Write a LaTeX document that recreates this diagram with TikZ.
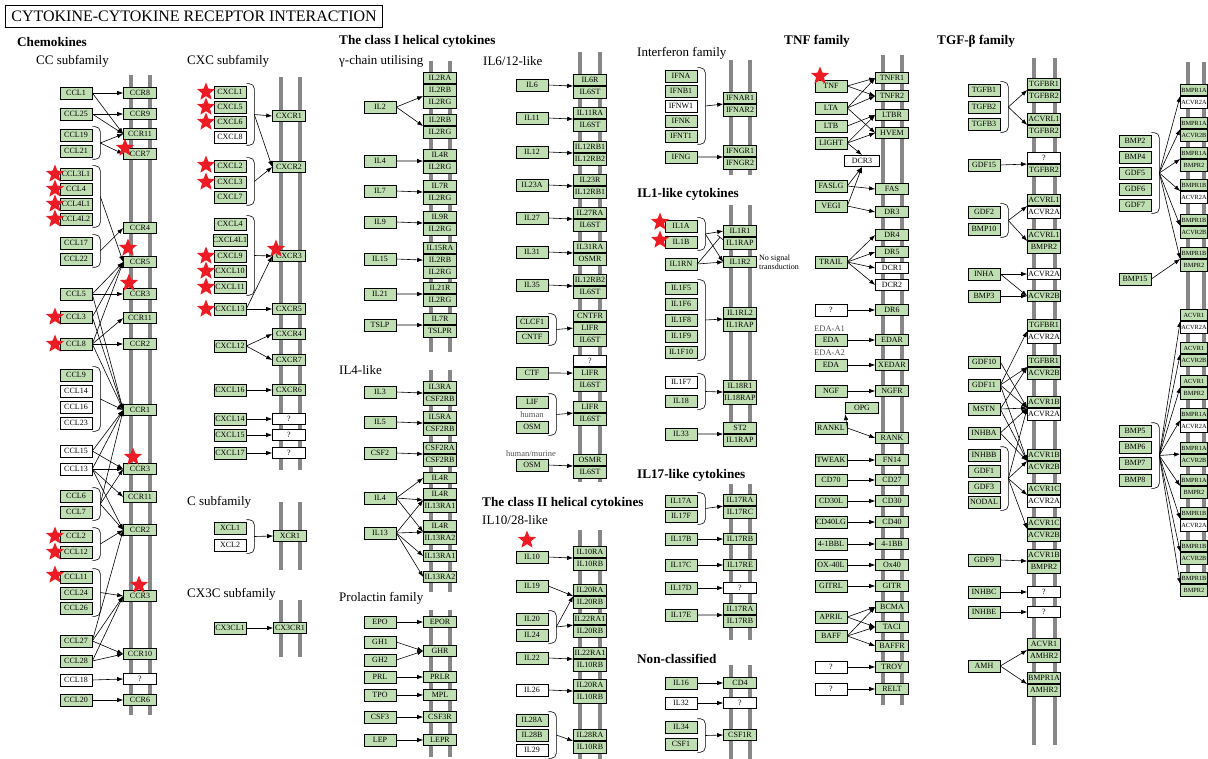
\documentclass[tikz,border=0pt]{standalone}
\usepackage{fontspec}
\setmainfont{Liberation Serif}
\usetikzlibrary{arrows.meta,positioning,shapes.geometric,calc}
\definecolor{kgreen}{RGB}{191,222,178}
\definecolor{memgray}{RGB}{135,135,135}
\definecolor{starred}{RGB}{237,28,36}
\definecolor{notegray}{RGB}{80,80,80}
% bracket round a group of ligands, with a coordinate at its tip
\newcommand{\kbrace}[3]{%
  \draw[brk] ([yshift=2pt]#1.north east) -| ([xshift=8pt,yshift=-2pt]#2.south east) -- ([yshift=-2pt]#2.south east);
  \coordinate (#3) at ($(#1.north east)!0.5!(#2.south east)+(8,0)$);}

\begin{document}
\begin{tikzpicture}[x=1pt, y=-1pt,
    lig/.style = {draw, line width=0.6pt, fill=kgreen, minimum width=32pt, minimum height=12pt, inner sep=0pt, font=\fontsize{8}{8}\selectfont},
    ligw/.style = {lig, fill=white},
    rec/.style = {lig, minimum width=33pt, minimum height=11.5pt},
    recw/.style = {rec, fill=white},
    bmp/.style = {rec, minimum width=27pt, font=\fontsize{6.3}{7}\selectfont},
    bmpw/.style = {bmp, fill=white},
    mem/.style = {draw=memgray, line width=3.2pt},
    arr/.style = {-{Latex[length=6pt,width=4.4pt]}, line width=0.6pt},
    inh/.style = {-{Bar[width=7pt]}, line width=0.6pt},
    brk/.style = {draw, line width=0.6pt, rounded corners=5pt},
    kstar/.style = {star, star points=5, star point ratio=2.3, fill=starred, inner sep=0pt, minimum size=19pt},
    head/.style = {anchor=west, inner sep=0pt, font=\bfseries\fontsize{13.2}{15}\selectfont},
    sub/.style = {anchor=west, inner sep=0pt, font=\fontsize{13}{15}\selectfont},
    note/.style = {inner sep=0pt, text=notegray, font=\fontsize{8.5}{9}\selectfont}]
\useasboundingbox (0,0) rectangle (1208,759);

% membranes
\foreach \xa/\xb/\ya/\yb in {131/150/75/715, 281/300/77/470, 281/300/502/570, 281/300/600/657,
    431/450/61/352, 431/450/370/592, 431/450/610/757, 580/600/52/482, 580/600/530/759,
    731/750/60/175, 731/750/205/445, 731/750/484/640, 731/750/665/759,
    883/902/55/705, 1034/1055/58/745, 1188/1204/62/597}
  {\draw[mem] (\xa,\ya) -- (\xa,\yb); \draw[mem] (\xb,\ya) -- (\xb,\yb);}

% title and headings
\node[draw, line width=0.8pt, anchor=west, inner xsep=6pt, minimum height=22pt, font=\fontsize{16}{18}\selectfont] (title) at (5,16) {CYTOKINE-CYTOKINE RECEPTOR INTERACTION};
\node[head] (hChemo) at (17,42) {Chemokines};
\node[sub] (hCC) at (36,61) {CC subfamily};
\node[sub] (hCXC) at (187,61) {CXC subfamily};
\node[sub] (hC) at (187,502) {C subfamily};
\node[sub] (hCX3C) at (187,594) {CX3C subfamily};
\node[head] (hClassI) at (339,41) {The class I helical cytokines};
\node[sub] (hGamma) at (339,61) {γ-chain utilising};
\node[sub] (hIL4) at (339,370) {IL4-like};
\node[sub] (hPRL) at (339,598) {Prolactin family};
\node[sub] (hIL6) at (483,61) {IL6/12-like};
\node[head] (hClassII) at (482,503) {The class II helical cytokines};
\node[sub] (hIL10) at (482,520) {IL10/28-like};
\node[sub] (hIFN) at (637,53) {Interferon family};
\node[head] (hIL1) at (637,194) {IL1-like cytokines};
\node[head] (hIL17) at (637,475) {IL17-like cytokines};
\node[head] (hNC) at (637,659) {Non-classified};
\node[head] (hTNF) at (784,41) {TNF family};
\node[head] (hTGF) at (937,41) {TGF-β family};

% CC subfamily
\node[lig] (CCL1) at (76,93) {CCL1};
\node[lig] (CCL25) at (76,114) {CCL25};
\node[lig] (CCL19) at (76,135) {CCL19};
\node[lig] (CCL21) at (76,151) {CCL21};
\node[lig] (CCL3L1) at (76,174) {CCL3L1};
\node[lig] (CCL4) at (76,189) {CCL4};
\node[lig] (CCL4L1) at (76,204) {CCL4L1};
\node[lig] (CCL4L2) at (76,219) {CCL4L2};
\node[lig] (CCL17) at (76,243) {CCL17};
\node[lig] (CCL22) at (76,259) {CCL22};
\node[lig] (CCL5) at (76,294) {CCL5};
\node[lig] (CCL3) at (76,317) {CCL3};
\node[lig] (CCL8) at (76,344) {CCL8};
\node[lig] (CCL9) at (76,375) {CCL9};
\node[ligw] (CCL14) at (76,391) {CCL14};
\node[ligw] (CCL16) at (76,407) {CCL16};
\node[ligw] (CCL23) at (76,423) {CCL23};
\node[ligw] (CCL15) at (76,451) {CCL15};
\node[ligw] (CCL13) at (76,469) {CCL13};
\node[lig] (CCL6) at (76,496) {CCL6};
\node[lig] (CCL7) at (76,512) {CCL7};
\node[lig] (CCL2) at (76,536) {CCL2};
\node[lig] (CCL12) at (76,552) {CCL12};
\node[lig] (CCL11) at (76,577) {CCL11};
\node[lig] (CCL24) at (76,593) {CCL24};
\node[lig] (CCL26) at (76,608) {CCL26};
\node[lig] (CCL27) at (76,641) {CCL27};
\node[lig] (CCL28) at (76,661) {CCL28};
\node[ligw] (CCL18) at (76,680) {CCL18};
\node[lig] (CCL20) at (76,700) {CCL20};
\node[rec] (CCR8) at (140,93) {CCR8};
\node[rec] (CCR9) at (140,114) {CCR9};
\node[rec] (CCR11a) at (140,134) {CCR11};
\node[rec] (CCR7) at (140,154) {CCR7};
\node[rec] (CCR4) at (140,228) {CCR4};
\node[rec] (CCR5) at (140,262) {CCR5};
\node[rec] (CCR3a) at (140,294) {CCR3};
\node[rec] (CCR11b) at (140,318) {CCR11};
\node[rec] (CCR2a) at (140,344) {CCR2};
\node[rec] (CCR1) at (140,410) {CCR1};
\node[rec] (CCR3b) at (140,469) {CCR3};
\node[rec] (CCR11c) at (140,497) {CCR11};
\node[rec] (CCR2b) at (140,530) {CCR2};
\node[rec] (CCR3c) at (140,596) {CCR3};
\node[rec] (CCR10) at (140,654) {CCR10};
\node[recw] (CCRq) at (140,679) {?};
\node[rec] (CCR6) at (140,700) {CCR6};
\kbrace{CCL19}{CCL21}{bCC1}
\kbrace{CCL3L1}{CCL4L2}{bCC2}
\kbrace{CCL17}{CCL22}{bCC3}
\kbrace{CCL9}{CCL23}{bCC4}
\kbrace{CCL6}{CCL7}{bCC5}
\kbrace{CCL2}{CCL12}{bCC6}
\kbrace{CCL11}{CCL26}{bCC7}
\path[arr] (CCL1.east) edge (CCR8.west) edge (CCR11a.west);
\path[arr] (CCL25.east) edge (CCR9.west) edge (CCR11a.west);
\path[arr] (bCC1) edge (CCR11a.west) edge (CCR7.west);
\path[arr] (bCC2) edge (CCR5.west);
\path[arr] (bCC3) edge (CCR4.west);
\path[arr] (CCL5.east) edge (CCR5.west) edge (CCR3a.west) edge (CCR1.west);
\path[arr] (CCL3.east) edge (CCR5.west) edge (CCR1.west);
\path[arr] (CCL8.east) edge (CCR5.west) edge (CCR11b.west) edge (CCR2a.west) edge (CCR1.west);
\path[arr] (bCC4) edge (CCR1.west);
\path[arr] (CCL15.east) edge (CCR1.west) edge (CCR3b.west);
\path[arr] (CCL13.east) edge (CCR1.west) edge (CCR3b.west) edge (CCR11c.west) edge (CCR2b.west);
\path[arr] (bCC5) edge (CCR1.west) edge (CCR3b.west) edge (CCR2b.west);
\path[arr] (bCC6) edge (CCR2b.west);
\path[arr] (bCC7) edge (CCR3c.west);
\path[arr] (CCL27.east) edge (CCR2b.west) edge (CCR3c.west) edge (CCR10.west);
\path[arr] (CCL28.east) edge (CCR3c.west) edge (CCR10.west);
\path[arr] (CCL18.east) edge (CCRq.west);
\path[arr] (CCL20.east) edge (CCR6.west);

% CXC, C and CX3C subfamilies
\node[lig] (CXCL1) at (230,92) {CXCL1};
\node[lig] (CXCL5) at (230,107) {CXCL5};
\node[lig] (CXCL6) at (230,122) {CXCL6};
\node[ligw] (CXCL8) at (230,137) {CXCL8};
\node[lig] (CXCL2) at (230,166) {CXCL2};
\node[lig] (CXCL3) at (230,182) {CXCL3};
\node[lig] (CXCL7) at (230,197) {CXCL7};
\node[lig] (CXCL4) at (230,224) {CXCL4};
\node[lig] (CXCL4L1) at (230,240) {CXCL4L1};
\node[lig] (CXCL9) at (230,256) {CXCL9};
\node[lig] (CXCL10) at (230,271) {CXCL10};
\node[lig] (CXCL11) at (230,287) {CXCL11};
\node[lig] (CXCL13) at (230,309) {CXCL13};
\node[lig] (CXCL12) at (230,346) {CXCL12};
\node[lig] (CXCL16) at (230,390) {CXCL16};
\node[lig] (CXCL14) at (230,419) {CXCL14};
\node[lig] (CXCL15) at (230,435) {CXCL15};
\node[lig] (CXCL17) at (230,453) {CXCL17};
\node[rec] (CXCR1) at (289,116) {CXCR1};
\node[rec] (CXCR2) at (289,167) {CXCR2};
\node[rec] (CXCR3) at (289,256) {CXCR3};
\node[rec] (CXCR5) at (289,309) {CXCR5};
\node[rec] (CXCR4) at (289,334) {CXCR4};
\node[rec] (CXCR7) at (289,360) {CXCR7};
\node[rec] (CXCR6) at (289,390) {CXCR6};
\node[recw] (CXCq1) at (289,419) {?};
\node[recw] (CXCq2) at (289,435) {?};
\node[recw] (CXCq3) at (289,453) {?};
\node[lig] (XCL1) at (230,528) {XCL1};
\node[ligw] (XCL2) at (230,545) {XCL2};
\node[rec] (XCR1) at (290,536) {XCR1};
\node[lig] (CX3CL1) at (230,628) {CX3CL1};
\node[rec] (CX3CR1) at (290,628) {CX3CR1};
\kbrace{CXCL1}{CXCL8}{bCXC1}
\kbrace{CXCL2}{CXCL7}{bCXC2}
\kbrace{CXCL4}{CXCL11}{bCXC3}
\kbrace{XCL1}{XCL2}{bXC}
\path[arr] (bCXC1) edge (CXCR1.west) edge (CXCR2.west);
\path[arr] (bCXC2) edge (CXCR2.west);
\path[arr] (bCXC3) edge (CXCR3.west);
\path[arr] (CXCL13.east) edge (CXCR3.west) edge (CXCR5.west);
\path[arr] (CXCL12.east) edge (CXCR4.west) edge (CXCR7.west);
\path[arr] (CXCL16.east) edge (CXCR6.west);
\path[arr] (CXCL14.east) edge (CXCq1.west);
\path[arr] (CXCL15.east) edge (CXCq2.west);
\path[arr] (CXCL17.east) edge (CXCq3.west);
\path[arr] (bXC) edge (XCR1.west);
\path[arr] (CX3CL1.east) edge (CX3CR1.west);

% class I helical cytokines: gamma-chain utilising
\node[lig] (IL2) at (380,107) {IL2};
\node[rec] (IL2RA) at (440,78) {IL2RA};
\node[rec, below=0pt of IL2RA] (IL2RBa) {IL2RB};
\node[rec, below=0pt of IL2RBa] (IL2RGa) {IL2RG};
\node[rec] (IL2RBb) at (440,120) {IL2RB};
\node[rec, below=0pt of IL2RBb] (IL2RGb) {IL2RG};
\node[lig] (IL4a) at (380,161) {IL4};
\node[rec] (IL4Ra) at (440,155) {IL4R};
\node[rec, below=0pt of IL4Ra] (IL2RGc) {IL2RG};
\node[lig] (IL7) at (380,191) {IL7};
\node[rec] (IL7Ra) at (440,186) {IL7R};
\node[rec, below=0pt of IL7Ra] (IL2RGd) {IL2RG};
\node[lig] (IL9) at (380,222) {IL9};
\node[rec] (IL9R) at (440,217) {IL9R};
\node[rec, below=0pt of IL9R] (IL2RGe) {IL2RG};
\node[lig] (IL15) at (380,259) {IL15};
\node[rec] (IL15RA) at (440,248) {IL15RA};
\node[rec, below=0pt of IL15RA] (IL2RBc) {IL2RB};
\node[rec, below=0pt of IL2RBc] (IL2RGf) {IL2RG};
\node[lig] (IL21) at (380,294) {IL21};
\node[rec] (IL21R) at (440,288) {IL21R};
\node[rec, below=0pt of IL21R] (IL2RGg) {IL2RG};
\node[lig] (TSLP) at (380,325) {TSLP};
\node[rec] (IL7Rb) at (440,319) {IL7R};
\node[rec, below=0pt of IL7Rb] (TSLPR) {TSLPR};
\path[arr] (IL2.east) edge (IL2RBa.south west) edge (IL2RBb.south west);
\path[arr] (IL4a.east) edge (IL4Ra.south west);
\path[arr] (IL7.east) edge (IL7Ra.south west);
\path[arr] (IL9.east) edge (IL9R.south west);
\path[arr] (IL15.east) edge (IL2RBc.west);
\path[arr] (IL21.east) edge (IL21R.south west);
\path[arr] (TSLP.east) edge (IL7Rb.south west);

% IL4-like
\node[lig] (IL3) at (380,392) {IL3};
\node[rec] (IL3RA) at (440,387) {IL3RA};
\node[rec, below=0pt of IL3RA] (CSF2RBa) {CSF2RB};
\node[lig] (IL5) at (380,422) {IL5};
\node[rec] (IL5RA) at (440,417) {IL5RA};
\node[rec, below=0pt of IL5RA] (CSF2RBb) {CSF2RB};
\node[lig] (CSF2) at (380,453) {CSF2};
\node[rec] (CSF2RA) at (440,448) {CSF2RA};
\node[rec, below=0pt of CSF2RA] (CSF2RBc) {CSF2RB};
\node[rec] (IL4Rb) at (440,478) {IL4R};
\node[lig] (IL4b) at (380,498) {IL4};
\node[rec] (IL4Rc) at (440,494) {IL4R};
\node[rec, below=0pt of IL4Rc] (IL13RA1a) {IL13RA1};
\node[lig] (IL13) at (380,533) {IL13};
\node[rec] (IL4Rd) at (440,526) {IL4R};
\node[rec, below=0pt of IL4Rd] (IL13RA2a) {IL13RA2};
\node[rec] (IL13RA1b) at (440,556) {IL13RA1};
\node[rec] (IL13RA2b) at (440,577) {IL13RA2};
\path[arr] (IL3.east) edge (IL3RA.south west);
\path[arr] (IL5.east) edge (IL5RA.south west);
\path[arr] (CSF2.east) edge (CSF2RA.south west);
\path[arr] (IL4b.east) edge (IL4Rb.west) edge (IL4Rc.south west) edge (IL4Rd.south west);
\path[arr] (IL13.east) edge (IL4Rc.south west) edge (IL4Rd.south west) edge (IL13RA1b.west) edge (IL13RA2b.west);

% prolactin family
\node[lig] (EPO) at (380,622) {EPO};
\node[rec] (EPOR) at (440,622) {EPOR};
\node[lig] (GH1) at (380,642) {GH1};
\node[lig] (GH2) at (380,660) {GH2};
\node[rec] (GHR) at (440,651) {GHR};
\node[lig] (PRL) at (380,677) {PRL};
\node[rec] (PRLR) at (440,677) {PRLR};
\node[lig] (TPO) at (380,695) {TPO};
\node[rec] (MPL) at (440,695) {MPL};
\node[lig] (CSF3) at (380,717) {CSF3};
\node[rec] (CSF3R) at (440,717) {CSF3R};
\node[lig] (LEP) at (380,740) {LEP};
\node[rec] (LEPR) at (440,740) {LEPR};
\path[arr] (EPO.east) edge (EPOR.west);
\path[arr] (GH1.east) edge (GHR.west);
\path[arr] (GH2.east) edge (GHR.west);
\path[arr] (PRL.east) edge (PRLR.west);
\path[arr] (TPO.east) edge (MPL.west);
\path[arr] (CSF3.east) edge (CSF3R.west);
\path[arr] (LEP.east) edge (LEPR.west);

% IL6/12-like
\node[lig] (IL6) at (532,85) {IL6};
\node[rec] (IL6R) at (590,80) {IL6R};
\node[rec, below=0pt of IL6R] (IL6STa) {IL6ST};
\node[lig] (IL11) at (532,118) {IL11};
\node[rec] (IL11RA) at (590,113) {IL11RA};
\node[rec, below=0pt of IL11RA] (IL6STb) {IL6ST};
\node[lig] (IL12) at (532,152) {IL12};
\node[rec] (IL12RB1a) at (590,147) {IL12RB1};
\node[rec, below=0pt of IL12RB1a] (IL12RB2a) {IL12RB2};
\node[lig] (IL23A) at (532,185) {IL23A};
\node[rec] (IL23R) at (590,180) {IL23R};
\node[rec, below=0pt of IL23R] (IL12RB1b) {IL12RB1};
\node[lig] (IL27) at (532,218) {IL27};
\node[rec] (IL27RA) at (590,213) {IL27RA};
\node[rec, below=0pt of IL27RA] (IL6STc) {IL6ST};
\node[lig] (IL31) at (532,252) {IL31};
\node[rec] (IL31RA) at (590,247) {IL31RA};
\node[rec, below=0pt of IL31RA] (OSMRa) {OSMR};
\node[lig] (IL35) at (532,285) {IL35};
\node[rec] (IL12RB2b) at (590,280) {IL12RB2};
\node[rec, below=0pt of IL12RB2b] (IL6STd) {IL6ST};
\node[lig] (CLCF1) at (532,322) {CLCF1};
\node[lig] (CNTF) at (532,337) {CNTF};
\node[rec] (CNTFR) at (590,316) {CNTFR};
\node[rec, below=0pt of CNTFR] (LIFRa) {LIFR};
\node[rec, below=0pt of LIFRa] (IL6STe) {IL6ST};
\node[lig] (CTF) at (532,373) {CTF};
\node[recw] (IL6q) at (590,361) {?};
\node[rec, below=0pt of IL6q] (LIFRb) {LIFR};
\node[rec, below=0pt of LIFRb] (IL6STf) {IL6ST};
\node[lig] (LIF) at (532,402) {LIF};
\node[note] (nHuman) at (532,415) {human};
\node[lig] (OSMa) at (532,427) {OSM};
\node[rec] (LIFRc) at (590,407) {LIFR};
\node[rec, below=0pt of LIFRc] (IL6STg) {IL6ST};
\node[note] (nMurine) at (531,454) {human/murine};
\node[lig] (OSMb) at (532,465) {OSM};
\node[rec] (OSMRb) at (590,460) {OSMR};
\node[rec, below=0pt of OSMRb] (IL6STh) {IL6ST};
\kbrace{CLCF1}{CNTF}{bIL6a}
\kbrace{LIF}{OSMa}{bIL6b}
\path[arr] (IL6.east) edge (IL6R.south west);
\path[arr] (IL11.east) edge (IL11RA.south west);
\path[arr] (IL12.east) edge (IL12RB1a.south west);
\path[arr] (IL23A.east) edge (IL23R.south west);
\path[arr] (IL27.east) edge (IL27RA.south west);
\path[arr] (IL31.east) edge (IL31RA.south west);
\path[arr] (IL35.east) edge (IL12RB2b.south west);
\path[arr] (bIL6a) edge (LIFRa.west);
\path[arr] (CTF.east) edge (LIFRb.west);
\path[arr] (bIL6b) edge (LIFRc.south west);
\path[arr] (OSMb.east) edge (OSMRb.south west);

% class II helical cytokines
\node[lig] (IL10) at (532,557) {IL10};
\node[rec] (IL10RA) at (590,552) {IL10RA};
\node[rec, below=0pt of IL10RA] (IL10RBa) {IL10RB};
\node[lig] (IL19) at (532,586) {IL19};
\node[rec] (IL20RAa) at (590,590) {IL20RA};
\node[rec, below=0pt of IL20RAa] (IL20RBa) {IL20RB};
\node[lig] (IL20) at (532,619) {IL20};
\node[lig] (IL24) at (532,635) {IL24};
\node[rec] (IL22RA1a) at (590,619) {IL22RA1};
\node[rec, below=0pt of IL22RA1a] (IL20RBb) {IL20RB};
\node[lig] (IL22) at (532,658) {IL22};
\node[rec] (IL22RA1b) at (590,653) {IL22RA1};
\node[rec, below=0pt of IL22RA1b] (IL10RBb) {IL10RB};
\node[ligw] (IL26) at (532,690) {IL26};
\node[rec] (IL20RAb) at (590,685) {IL20RA};
\node[rec, below=0pt of IL20RAb] (IL10RBc) {IL10RB};
\node[lig] (IL28A) at (532,720) {IL28A};
\node[lig] (IL28B) at (532,735) {IL28B};
\node[ligw] (IL29) at (532,750) {IL29};
\node[rec] (IL28RA) at (590,735) {IL28RA};
\node[rec, below=0pt of IL28RA] (IL10RBd) {IL10RB};
\kbrace{IL20}{IL24}{bIL20}
\kbrace{IL28A}{IL29}{bIL28}
\path[arr] (IL10.east) edge (IL10RA.south west);
\path[arr] (IL19.east) edge (IL20RAa.south west);
\path[arr] (bIL20) edge (IL20RAa.south west) edge (IL22RA1a.south west);
\path[arr] (IL22.east) edge (IL22RA1b.south west);
\path[arr] (IL26.east) edge (IL20RAb.south west);
\path[arr] (bIL28) edge (IL28RA.south west);

% interferon family
\node[lig] (IFNA) at (681,76) {IFNA};
\node[lig] (IFNB1) at (681,91) {IFNB1};
\node[ligw] (IFNW1) at (681,106) {IFNW1};
\node[lig] (IFNK) at (681,121) {IFNK};
\node[lig] (IFNT1) at (681,136) {IFNT1};
\node[rec] (IFNAR1) at (740,98) {IFNAR1};
\node[rec, below=0pt of IFNAR1] (IFNAR2) {IFNAR2};
\node[lig] (IFNG) at (681,157) {IFNG};
\node[rec] (IFNGR1) at (740,151) {IFNGR1};
\node[rec, below=0pt of IFNGR1] (IFNGR2) {IFNGR2};
\kbrace{IFNA}{IFNT1}{bIFN}
\path[arr] (bIFN) edge (IFNAR1.south west);
\path[arr] (IFNG.east) edge (IFNGR1.south west);

% IL1-like cytokines
\node[lig] (IL1A) at (681,226) {IL1A};
\node[lig] (IL1B) at (681,242) {IL1B};
\node[lig] (IL1RN) at (681,264) {IL1RN};
\node[rec] (IL1R1) at (740,231) {IL1R1};
\node[rec, below=0pt of IL1R1] (IL1RAPa) {IL1RAP};
\node[rec] (IL1R2) at (740,262) {IL1R2};
\node[anchor=west, align=left, inner sep=0pt, font=\fontsize{8}{9}\selectfont] (nNoSig) at (759,262) {No signal\\transduction};
\node[lig] (IL1F5) at (681,288) {IL1F5};
\node[lig] (IL1F6) at (681,304) {IL1F6};
\node[lig] (IL1F8) at (681,320) {IL1F8};
\node[lig] (IL1F9) at (681,336) {IL1F9};
\node[lig] (IL1F10) at (681,352) {IL1F10};
\node[rec] (IL1RL2) at (740,313) {IL1RL2};
\node[rec, below=0pt of IL1RL2] (IL1RAPb) {IL1RAP};
\node[ligw] (IL1F7) at (681,382) {IL1F7};
\node[lig] (IL18) at (681,401) {IL18};
\node[rec] (IL18R1) at (740,386) {IL18R1};
\node[rec, below=0pt of IL18R1] (IL18RAP) {IL18RAP};
\node[lig] (IL33) at (681,434) {IL33};
\node[rec] (ST2) at (740,428) {ST2};
\node[rec, below=0pt of ST2] (IL1RAPc) {IL1RAP};
\kbrace{IL1A}{IL1B}{bIL1}
\kbrace{IL1F5}{IL1F10}{bIL1F}
\kbrace{IL1F7}{IL18}{bIL18}
\path[arr] (bIL1) edge (IL1R1.west) edge (IL1R2.west);
\path[arr] (IL1RN.east) edge (IL1R2.west);
\draw[inh] (IL1RN.east) -- ([xshift=-3pt]IL1R1.south west);
\path[arr] (bIL1F) edge (IL1RL2.south west);
\path[arr] (bIL18) edge (IL18R1.south west);
\path[arr] (IL33.east) edge (ST2.south west);

% IL17-like cytokines
\node[lig] (IL17A) at (681,501) {IL17A};
\node[lig] (IL17F) at (681,516) {IL17F};
\node[rec] (IL17RAa) at (740,500) {IL17RA};
\node[rec, below=0pt of IL17RAa] (IL17RC) {IL17RC};
\node[lig] (IL17B) at (681,539) {IL17B};
\node[rec] (IL17RBa) at (740,539) {IL17RB};
\node[lig] (IL17C) at (681,565) {IL17C};
\node[rec] (IL17RE) at (740,565) {IL17RE};
\node[lig] (IL17D) at (681,588) {IL17D};
\node[recw] (IL17q) at (740,588) {?};
\node[lig] (IL17E) at (681,615) {IL17E};
\node[rec] (IL17RAb) at (740,609) {IL17RA};
\node[rec, below=0pt of IL17RAb] (IL17RBb) {IL17RB};
\kbrace{IL17A}{IL17F}{bIL17}
\path[arr] (bIL17) edge (IL17RAa.south west);
\path[arr] (IL17B.east) edge (IL17RBa.west);
\path[arr] (IL17C.east) edge (IL17RE.west);
\path[arr] (IL17D.east) edge (IL17q.west);
\path[arr] (IL17E.east) edge (IL17RAb.south west);

% non-classified
\node[lig] (IL16) at (681,683) {IL16};
\node[rec] (CD4) at (740,683) {CD4};
\node[ligw] (IL32) at (681,703) {IL32};
\node[recw] (NCq) at (740,703) {?};
\node[lig] (IL34) at (681,727) {IL34};
\node[lig] (CSF1) at (681,744) {CSF1};
\node[rec] (CSF1R) at (740,735) {CSF1R};
\kbrace{IL34}{CSF1}{bCSF}
\path[arr] (IL16.east) edge (CD4.west);
\path[arr] (IL32.east) edge (NCq.west);
\path[arr] (bCSF) edge (CSF1R.west);

% TNF family
\node[lig] (TNF) at (831,86) {TNF};
\node[lig] (LTA) at (831,108) {LTA};
\node[lig] (LTB) at (831,126) {LTB};
\node[lig] (LIGHT) at (831,143) {LIGHT};
\node[rec] (TNFR1) at (892,78) {TNFR1};
\node[rec] (TNFR2) at (892,96) {TNFR2};
\node[rec] (LTBR) at (892,115) {LTBR};
\node[rec] (HVEM) at (892,133) {HVEM};
\node[recw, minimum width=35pt] (DCR3) at (862,161) {DCR3};
\node[lig] (FASLG) at (831,186) {FASLG};
\node[rec] (FAS) at (892,189) {FAS};
\node[lig] (VEGI) at (831,206) {VEGI};
\node[rec] (DR3) at (892,212) {DR3};
\node[lig] (TRAIL) at (831,262) {TRAIL};
\node[rec] (DR4) at (892,235) {DR4};
\node[rec] (DR5) at (892,252) {DR5};
\node[recw] (DCR1) at (892,268) {DCR1};
\node[recw] (DCR2) at (892,285) {DCR2};
\node[ligw] (TNFq1) at (831,310) {?};
\node[rec] (DR6) at (892,310) {DR6};
\node[note, anchor=west] (nEDA1) at (814,329) {EDA-A1};
\node[lig] (EDAa) at (831,340) {EDA};
\node[rec] (EDAR) at (892,340) {EDAR};
\node[note, anchor=west] (nEDA2) at (814,353) {EDA-A2};
\node[lig] (EDAb) at (831,365) {EDA};
\node[rec] (XEDAR) at (892,365) {XEDAR};
\node[lig] (NGF) at (831,391) {NGF};
\node[rec] (NGFR) at (892,391) {NGFR};
\node[rec] (OPG) at (862,408) {OPG};
\node[lig] (RANKL) at (831,428) {RANKL};
\node[rec] (RANK) at (892,438) {RANK};
\node[lig] (TWEAK) at (831,460) {TWEAK};
\node[rec] (FN14) at (892,460) {FN14};
\node[lig] (CD70) at (831,480) {CD70};
\node[rec] (CD27) at (892,480) {CD27};
\node[lig] (CD30L) at (831,501) {CD30L};
\node[rec] (CD30) at (892,501) {CD30};
\node[lig] (CD40LG) at (831,522) {CD40LG};
\node[rec] (CD40) at (892,522) {CD40};
\node[lig] (L41BB) at (831,544) {4-1BBL};
\node[rec] (R41BB) at (892,544) {4-1BB};
\node[lig] (OX40L) at (831,565) {OX-40L};
\node[rec] (OX40) at (892,565) {Ox40};
\node[lig] (GITRL) at (831,586) {GITRL};
\node[rec] (GITR) at (892,586) {GITR};
\node[lig] (APRIL) at (831,617) {APRIL};
\node[lig] (BAFF) at (831,636) {BAFF};
\node[rec] (BCMA) at (892,607) {BCMA};
\node[rec] (TACI) at (892,627) {TACI};
\node[rec] (BAFFR) at (892,646) {BAFFR};
\node[ligw] (TNFq2) at (831,667) {?};
\node[rec] (TROY) at (892,667) {TROY};
\node[ligw] (TNFq3) at (831,689) {?};
\node[rec] (RELT) at (892,689) {RELT};
\path[arr] (TNF.east) edge (TNFR1.west) edge (TNFR2.west);
\path[arr] (LTA.east) edge (TNFR1.west) edge (TNFR2.west) edge (HVEM.west);
\path[arr] (LTB.east) edge (LTBR.west);
\path[arr] (LIGHT.east) edge (LTBR.west) edge (HVEM.west) edge (DCR3.north);
\path[arr] (FASLG.east) edge (DCR3.south) edge (FAS.west);
\path[arr] (VEGI.east) edge (DCR3.south) edge (DR3.west);
\path[arr] (TRAIL.east) edge (DR4.west) edge (DR5.west) edge (DCR1.west) edge (DCR2.west);
\path[arr] (TNFq1.east) edge (DR6.west);
\path[arr] (EDAa.east) edge (EDAR.west);
\path[arr] (EDAb.east) edge (XEDAR.west);
\path[arr] (NGF.east) edge (NGFR.west);
\path[arr] (RANKL.east) edge (OPG.south west) edge (RANK.west);
\path[arr] (TWEAK.east) edge (FN14.west);
\path[arr] (CD70.east) edge (CD27.west);
\path[arr] (CD30L.east) edge (CD30.west);
\path[arr] (CD40LG.east) edge (CD40.west);
\path[arr] (L41BB.east) edge (R41BB.west);
\path[arr] (OX40L.east) edge (OX40.west);
\path[arr] (GITRL.east) edge (GITR.west);
\path[arr] (APRIL.east) edge (BCMA.west) edge (TACI.west);
\path[arr] (BAFF.east) edge (BCMA.west) edge (TACI.west) edge (BAFFR.west);
\path[arr] (TNFq2.east) edge (TROY.west);
\path[arr] (TNFq3.east) edge (RELT.west);

% TGF-beta family
\node[lig] (TGFB1) at (984,90) {TGFB1};
\node[lig] (TGFB2) at (984,107) {TGFB2};
\node[lig] (TGFB3) at (984,124) {TGFB3};
\node[lig] (GDF15) at (984,165) {GDF15};
\node[lig] (GDF2) at (984,212) {GDF2};
\node[lig] (BMP10) at (984,229) {BMP10};
\node[lig] (INHA) at (984,274) {INHA};
\node[lig] (BMP3) at (984,296) {BMP3};
\node[lig] (GDF10) at (984,362) {GDF10};
\node[lig] (GDF11) at (984,385) {GDF11};
\node[lig] (MSTN) at (984,409) {MSTN};
\node[lig] (INHBA) at (984,433) {INHBA};
\node[lig] (INHBB) at (984,455) {INHBB};
\node[lig] (GDF1) at (984,471) {GDF1};
\node[lig] (GDF3) at (984,487) {GDF3};
\node[lig] (NODAL) at (984,502) {NODAL};
\node[lig] (GDF9) at (984,560) {GDF9};
\node[lig] (INHBC) at (984,592) {INHBC};
\node[lig] (INHBE) at (984,612) {INHBE};
\node[lig] (AMH) at (984,666) {AMH};
\node[rec] (TGFBR1a) at (1044,84) {TGFBR1};
\node[rec, below=0pt of TGFBR1a] (TGFBR2a) {TGFBR2};
\node[rec] (ACVRL1a) at (1044,119) {ACVRL1};
\node[rec, below=0pt of ACVRL1a] (TGFBR2b) {TGFBR2};
\node[recw] (TGFq1) at (1044,158) {?};
\node[rec, below=0pt of TGFq1] (TGFBR2c) {TGFBR2};
\node[rec] (ACVRL1b) at (1044,200) {ACVRL1};
\node[recw, below=0pt of ACVRL1b] (ACVR2Aa) {ACVR2A};
\node[rec] (ACVRL1c) at (1044,235) {ACVRL1};
\node[rec, below=0pt of ACVRL1c] (BMPR2a) {BMPR2};
\node[recw] (ACVR2Ab) at (1044,274) {ACVR2A};
\node[rec] (ACVR2Bb) at (1044,296) {ACVR2B};
\node[rec] (TGFBR1b) at (1044,325) {TGFBR1};
\node[recw, below=0pt of TGFBR1b] (ACVR2Ac) {ACVR2A};
\node[rec] (TGFBR1c) at (1044,361) {TGFBR1};
\node[rec, below=0pt of TGFBR1c] (ACVR2Bc) {ACVR2B};
\node[rec] (ACVR1Ba) at (1044,402) {ACVR1B};
\node[recw, below=0pt of ACVR1Ba] (ACVR2Ad) {ACVR2A};
\node[rec] (ACVR1Bb) at (1044,455) {ACVR1B};
\node[rec, below=0pt of ACVR1Bb] (ACVR2Bd) {ACVR2B};
\node[rec] (ACVR1Ca) at (1044,489) {ACVR1C};
\node[recw, below=0pt of ACVR1Ca] (ACVR2Ae) {ACVR2A};
\node[rec] (ACVR1Cb) at (1044,523) {ACVR1C};
\node[rec, below=0pt of ACVR1Cb] (ACVR2Be) {ACVR2B};
\node[rec] (ACVR1Bc) at (1044,555) {ACVR1B};
\node[rec, below=0pt of ACVR1Bc] (BMPR2b) {BMPR2};
\node[recw] (TGFq2) at (1044,592) {?};
\node[recw] (TGFq3) at (1044,612) {?};
\node[rec] (ACVR1a) at (1044,644) {ACVR1};
\node[rec, below=0pt of ACVR1a] (AMHR2a) {AMHR2};
\node[rec] (BMPR1Aa) at (1044,678) {BMPR1A};
\node[rec, below=0pt of BMPR1Aa] (AMHR2b) {AMHR2};
\kbrace{TGFB1}{TGFB3}{bTGF}
\kbrace{GDF2}{BMP10}{bGDF2}
\kbrace{INHBB}{NODAL}{bINHBB}
\path[arr] (bTGF) edge (TGFBR1a.south west) edge (ACVRL1a.south west);
\path[arr] (GDF15.east) edge (TGFq1.south west);
\path[arr] (bGDF2) edge (ACVRL1b.south west) edge (ACVRL1c.south west);
\path[arr] (INHA.east) edge (ACVR2Ab.west) edge (ACVR2Bb.west);
\path[arr] (BMP3.east) edge (ACVR2Bb.west);
\path[arr] (GDF10.east) edge (ACVR1Ba.south west);
\path[arr] (GDF11.east) edge (TGFBR1b.south west) edge (TGFBR1c.south west) edge (ACVR1Ba.south west) edge (ACVR1Bb.south west);
\path[arr] (MSTN.east) edge (TGFBR1c.south west) edge (ACVR1Ba.south west) edge (ACVR1Bb.south west);
\path[arr] (INHBA.east) edge (ACVR1Ba.south west) edge (ACVR1Bb.south west);
\path[arr] (bINHBB) edge (ACVR1Ba.south west) edge (ACVR1Bb.south west) edge (ACVR1Ca.south west) edge (ACVR1Cb.south west);
\path[arr] (GDF9.east) edge (ACVR1Bc.south west);
\path[arr] (INHBC.east) edge (TGFq2.west);
\path[arr] (INHBE.east) edge (TGFq3.west);
\path[arr] (AMH.east) edge (ACVR1a.south west) edge (BMPR1Aa.south west);

% BMP receptors
\node[lig] (BMP2) at (1135,141) {BMP2};
\node[lig] (BMP4) at (1135,157) {BMP4};
\node[lig] (GDF5) at (1135,173) {GDF5};
\node[lig] (GDF6) at (1135,189) {GDF6};
\node[lig] (GDF7) at (1135,205) {GDF7};
\node[lig] (BMP15) at (1135,279) {BMP15};
\node[lig] (BMP5) at (1135,431) {BMP5};
\node[lig] (BMP6) at (1135,447) {BMP6};
\node[lig] (BMP7) at (1135,463) {BMP7};
\node[lig] (BMP8) at (1135,480) {BMP8};
\node[bmp] (rB1) at (1194,90) {BMPR1A};
\node[bmpw, below=0pt of rB1] (rB1b) {ACVR2A};
\node[bmp] (rB2) at (1194,123) {BMPR1A};
\node[bmp, below=0pt of rB2] (rB2b) {ACVR2B};
\node[bmp] (rB3) at (1194,153) {BMPR1A};
\node[bmp, below=0pt of rB3] (rB3b) {BMPR2};
\node[bmp] (rB4) at (1194,185) {BMPR1B};
\node[bmpw, below=0pt of rB4] (rB4b) {ACVR2A};
\node[bmp] (rB5) at (1194,220) {BMPR1B};
\node[bmp, below=0pt of rB5] (rB5b) {ACVR2B};
\node[bmp] (rB6) at (1194,253) {BMPR1B};
\node[bmp, below=0pt of rB6] (rB6b) {BMPR2};
\node[bmp] (rC1) at (1194,315) {ACVR1};
\node[bmpw, below=0pt of rC1] (rC1b) {ACVR2A};
\node[bmp] (rC2) at (1194,348) {ACVR1};
\node[bmp, below=0pt of rC2] (rC2b) {ACVR2B};
\node[bmp] (rC3) at (1194,381) {ACVR1};
\node[bmp, below=0pt of rC3] (rC3b) {BMPR2};
\node[bmp] (rC4) at (1194,414) {BMPR1A};
\node[bmpw, below=0pt of rC4] (rC4b) {ACVR2A};
\node[bmp] (rC5) at (1194,448) {BMPR1A};
\node[bmp, below=0pt of rC5] (rC5b) {ACVR2B};
\node[bmp] (rC6) at (1194,480) {BMPR1A};
\node[bmp, below=0pt of rC6] (rC6b) {BMPR2};
\node[bmp] (rC7) at (1194,513) {BMPR1B};
\node[bmpw, below=0pt of rC7] (rC7b) {ACVR2A};
\node[bmp] (rC8) at (1194,546) {BMPR1B};
\node[bmp, below=0pt of rC8] (rC8b) {ACVR2B};
\node[bmp] (rC9) at (1194,578) {BMPR1B};
\node[bmp, below=0pt of rC9] (rC9b) {BMPR2};
\kbrace{BMP2}{GDF7}{bBMP2}
\kbrace{BMP5}{BMP8}{bBMP5}
\path[arr] (bBMP2) edge (rB1.south west) edge (rB2.south west) edge (rB3.south west)
  edge (rB4.south west) edge (rB5.south west) edge (rB6.south west);
\path[arr] (BMP15.east) edge (rB6.south west);
\path[arr] (bBMP5) edge (rC1.south west) edge (rC2.south west) edge (rC3.south west)
  edge (rC4.south west) edge (rC5.south west) edge (rC6.south west)
  edge (rC7.south west) edge (rC8.south west) edge (rC9.south west);

% stars
\foreach \sx/\sy [count=\i] in {55/174, 55/189, 55/204, 55/219, 55/317, 55/344, 55/536, 55/552, 55/575,
    206/92, 206/107, 206/122, 206/165, 206/182, 206/256, 206/271, 206/287, 206/309,
    125/148, 128/248, 129/283, 133/457, 139/585, 276/249, 820/76, 527/540, 660/222, 660/240}
  \node[kstar] (star\i) at (\sx,\sy) {};
\end{tikzpicture}
\end{document}
